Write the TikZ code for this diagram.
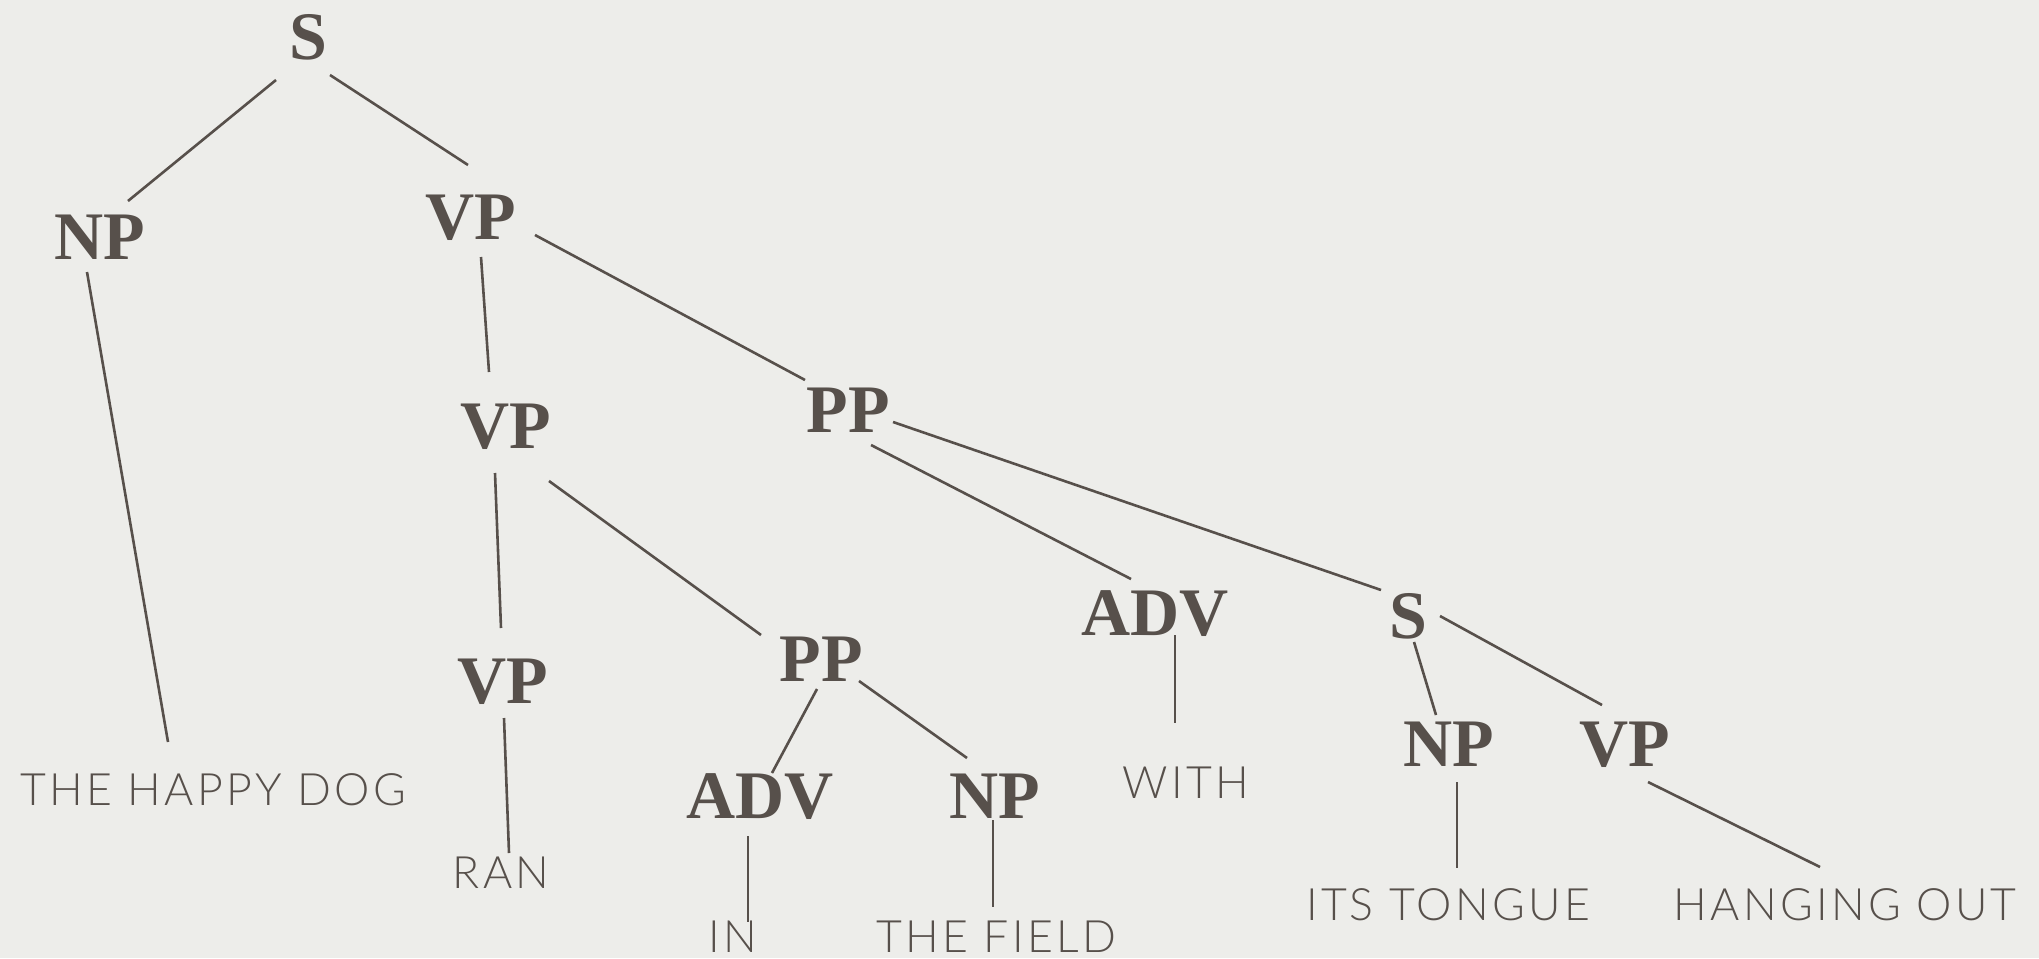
\documentclass[tikz,border=0pt]{standalone}
\usepackage{fontspec}
\setmainfont{Liberation Serif}
\IfFontExistsTF{Lato Light}{\newfontfamily\leaffont[LetterSpace=7.5]{Lato Light}}{\newfontfamily\leaffont[LetterSpace=7.5]{Lato}}
\usepackage{tikz}
\usetikzlibrary{calc}
\definecolor{ink}{HTML}{57504B}
\definecolor{paper}{HTML}{EDEDEA}
\tikzset{
    cat/.style={font=\bfseries\fontsize{34}{34}\selectfont, text=ink, text height=22.5pt, text depth=0pt, inner sep=0pt},
    leaf/.style={font=\leaffont\fontsize{22.3}{22.3}\selectfont, text=ink, text height=16pt, text depth=0pt, inner sep=0pt},
    edge/.style={draw=ink, line width=1.3pt}
}

\begin{document}
\begin{tikzpicture}[x=0.5pt, y=-0.5pt]
            \fill[paper] (0,0) rectangle (2039,958);
            \useasboundingbox (0,0) rectangle (2039,958);

            \node[cat] at (308, 37)   (s)   {S};
            \node[cat] at (100, 237)  (np)  {NP};
            \node[cat] at (471, 217)  (vp)  {VP};
            \node[cat] at (506, 426)  (vpa) {VP};
            \node[cat] at (848, 410)  (pp)  {PP};
            \node[cat] at (503, 681)  (vpb) {VP};
            \node[cat] at (821, 659)  (ppb) {PP};
            \node[cat] at (760, 796)  (adva) {ADV};
            \node[cat] at (995, 796)  (npb) {NP};
            \node[cat] at (1155, 613) (advb) {ADV};
            \node[cat] at (1408, 616) (sb)  {S};
            \node[cat] at (1449, 744) (npc) {NP};
            \node[cat] at (1625, 744) (vpc) {VP};

            \node[leaf] at (213, 789)  (dog)     {THE HAPPY DOG};
            \node[leaf] at (501, 872)  (ran)     {RAN};
            \node[leaf] at (733, 936)  (in)      {IN};
            \node[leaf] at (996, 936)  (field)   {THE FIELD};
            \node[leaf] at (1186, 782) (with)    {WITH};
            \node[leaf] at (1448, 904) (tongue)  {ITS TONGUE};
            \node[leaf] at (1845, 904) (hanging) {HANGING OUT};

            \draw[edge] ($(s)+(-32,43)$)    -- ($(np)+(28,-36)$);
            \draw[edge] ($(s)+(22,38)$)     -- ($(vp)+(-3,-52)$);
            \draw[edge] ($(np)+(-13,35)$)   -- ($(dog)+(-45,-47)$);
            \draw[edge] ($(vp)+(10,40)$)    -- ($(vpa)+(-17,-54)$);
            \draw[edge] ($(vp)+(64,18)$)    -- ($(pp)+(-43,-30)$);
            \draw[edge] ($(vpa)+(-11,47)$)  -- ($(vpb)+(-2,-53)$);
            \draw[edge] ($(vpa)+(43,55)$)   -- ($(ppb)+(-60,-24)$);
            \draw[edge] ($(pp)+(23,35)$)    -- ($(advb)+(-24,-34)$);
            \draw[edge] ($(pp)+(45,12)$)    -- ($(sb)+(-27,-26)$);
            \draw[edge] ($(vpb)+(1,37)$)    -- ($(ran)+(8,-19)$);
            \draw[edge] ($(ppb)+(-4,30)$)   -- ($(adva)+(12,-23)$);
            \draw[edge] ($(ppb)+(38,22)$)   -- ($(npb)+(-28,-38)$);
            \draw[edge] ($(adva)+(-12,40)$) -- ($(in)+(15,-14)$);
            \draw[edge] ($(npb)+(-2,24)$)   -- ($(field)+(-3,-29)$);
            \draw[edge] ($(advb)+(20,22)$)  -- ($(with)+(-11,-59)$);
            \draw[edge] ($(sb)+(6,26)$)     -- ($(npc)+(-13,-29)$);
            \draw[edge] ($(sb)+(32,0)$)     -- ($(vpc)+(-23,-39)$);
            \draw[edge] ($(npc)+(8,38)$)    -- ($(tongue)+(9,-36)$);
            \draw[edge] ($(vpc)+(23,38)$)   -- ($(hanging)+(-25,-37)$);
        \end{tikzpicture}
\end{document}
